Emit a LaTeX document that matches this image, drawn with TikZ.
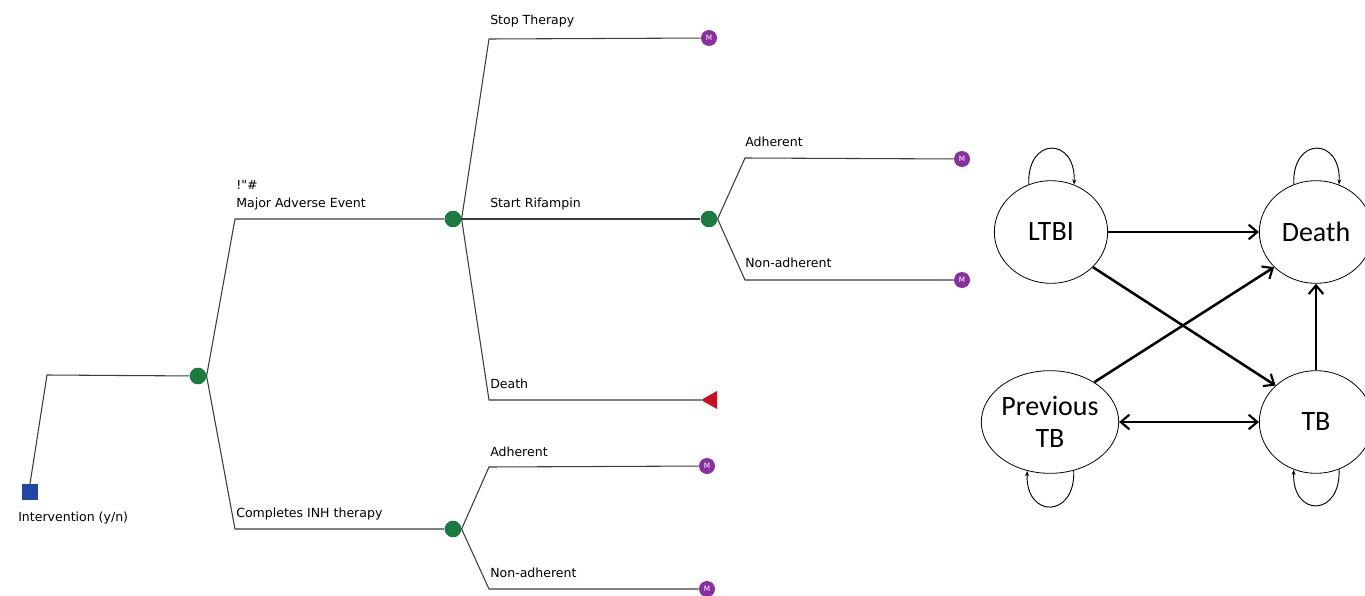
\documentclass[tikz,border=0pt]{standalone}
\usepackage{fontspec}
\setmainfont{DejaVu Sans}
\newfontfamily\calib{Carlito}
\newfontfamily\rawfont{DejaVu Sans}[Ligatures=TeXOff]
\usetikzlibrary{shapes.geometric,arrows.meta}
\definecolor{lineg}{HTML}{3C3C3C}
\definecolor{chance}{HTML}{1B7A40}
\definecolor{decis}{HTML}{2146A3}
\definecolor{markv}{HTML}{8A2FA0}
\definecolor{term}{HTML}{CC1020}
\tikzset{
  branch/.style={draw=lineg,line width=0.8pt},
  chancenode/.style={circle,fill=chance,inner sep=0pt,minimum size=12.5pt},
  decisionnode/.style={rectangle,fill=decis,inner sep=0pt,minimum size=12pt},
  markovnode/.style={circle,fill=markv,inner sep=0pt,minimum size=12pt,text=white,font=\fontsize{5.5}{6}\selectfont},
  lab/.style={anchor=base west,inner sep=0pt,font=\fontsize{9.4}{11}\selectfont},
  state/.style={ellipse,draw=black,line width=0.6pt,minimum width=85pt,minimum height=77pt,inner sep=0pt,align=center,font=\calib\fontsize{21}{24}\selectfont},
  thick arrow/.style={draw=black,line width=1.9pt,-{Straight Barb[length=6.5pt,width=11pt,line width=1.6pt]}},
  both arrow/.style={draw=black,line width=1.9pt,{Straight Barb[length=6.5pt,width=11pt,line width=1.6pt]}-{Straight Barb[length=6.5pt,width=11pt,line width=1.6pt]}},
  loop arrow/.style={draw=black,line width=0.7pt,-{Stealth[length=4pt,width=3pt]}}
}
\begin{document}
\begin{tikzpicture}[x=0.75pt,y=-0.75pt]
\useasboundingbox (0,0) rectangle (1365,596);
\clip (0,0) rectangle (1365,596);
% ---------- decision tree ----------
\node[decisionnode] (d) at (30,492) {};
\node[chancenode] (c1) at (198,376) {};
\node[chancenode] (c2) at (453,219) {};
\node[chancenode] (c3) at (709,219) {};
\node[chancenode] (c4) at (453,529) {};
\node[markovnode] (m1) at (709,38) {M};
\node[markovnode] (m2) at (962,159) {M};
\node[markovnode] (m3) at (962,280) {M};
\node[markovnode] (m4) at (707,466) {M};
\node[markovnode] (m5) at (707,589) {M};
\coordinate (t1) at (701,400);
\fill[term] (t1) -- ++(16,-9) -- ++(0,18) -- cycle;
% bend points
\coordinate (b0) at (47,375);
\coordinate (b1) at (235,219);
\coordinate (b2) at (235,529);
\coordinate (b3) at (489,39);
\coordinate (b4) at (489,400);
\coordinate (b5) at (745,158);
\coordinate (b6) at (745,280);
\coordinate (b7) at (489,467);
\coordinate (b8) at (489,589);
% connectors
\draw[branch] (d.north) -- (b0) -- (c1);
\draw[branch] (c1.east) -- (b1) -- (c2);
\draw[branch] (c1.east) -- (b2) -- (c4);
\draw[branch] (c2.east) -- (b3) -- (m1);
\draw[branch] (c2) -- (c3);
\draw[branch] (c2.east) -- (b4) -- (t1);
\draw[branch] (c3.east) -- (b5) -- (m2);
\draw[branch] (c3.east) -- (b6) -- (m3);
\draw[branch] (c4.east) -- (b7) -- (m4);
\draw[branch] (c4.east) -- (b8) -- (m5);
% labels
\node[lab] (l0) at (18,521) {Intervention (y/n)};
\node[lab] (l1a) at (236,189) {\rawfont !"\#};
\node[lab] (l1) at (236,207) {Major Adverse Event};
\node[lab] (l2) at (236,517) {Completes INH therapy};
\node[lab] (l3) at (490,24) {Stop Therapy};
\node[lab] (l4) at (490,207) {Start Rifampin};
\node[lab] (l5) at (490,388) {Death};
\node[lab] (l6) at (745,146) {Adherent};
\node[lab] (l7) at (745,267) {Non-adherent};
\node[lab] (l8) at (490,456) {Adherent};
\node[lab] (l9) at (490,577) {Non-adherent};
% ---------- Markov model ----------
\node[state] (LTBI) at (1051,232) {LTBI};
\node[state] (Death) at (1316,232) {Death};
\node[state] (PTB) at (1050,422) {Previous\\TB};
\node[state] (TB) at (1316,422) {TB};
\draw[thick arrow] (LTBI.east) -- (Death.west);
\draw[thick arrow] (LTBI.-40) -- (TB.138);
\draw[thick arrow] (PTB.42) -- (Death.220);
\draw[thick arrow] (TB.north) -- (Death.south);
\draw[both arrow] (PTB.east) -- (TB.west);
% self loops
\draw[loop arrow] (LTBI.115) .. controls +(-2,-48) and +(2,-48) .. (LTBI.64);
\draw[loop arrow] (Death.115) .. controls +(-2,-48) and +(2,-48) .. (Death.64);
\draw[loop arrow] (PTB.-64) .. controls +(2,48) and +(-2,48) .. (PTB.-115);
\draw[loop arrow] (TB.-64) .. controls +(2,48) and +(-2,48) .. (TB.-115);
\end{tikzpicture}
\end{document}
